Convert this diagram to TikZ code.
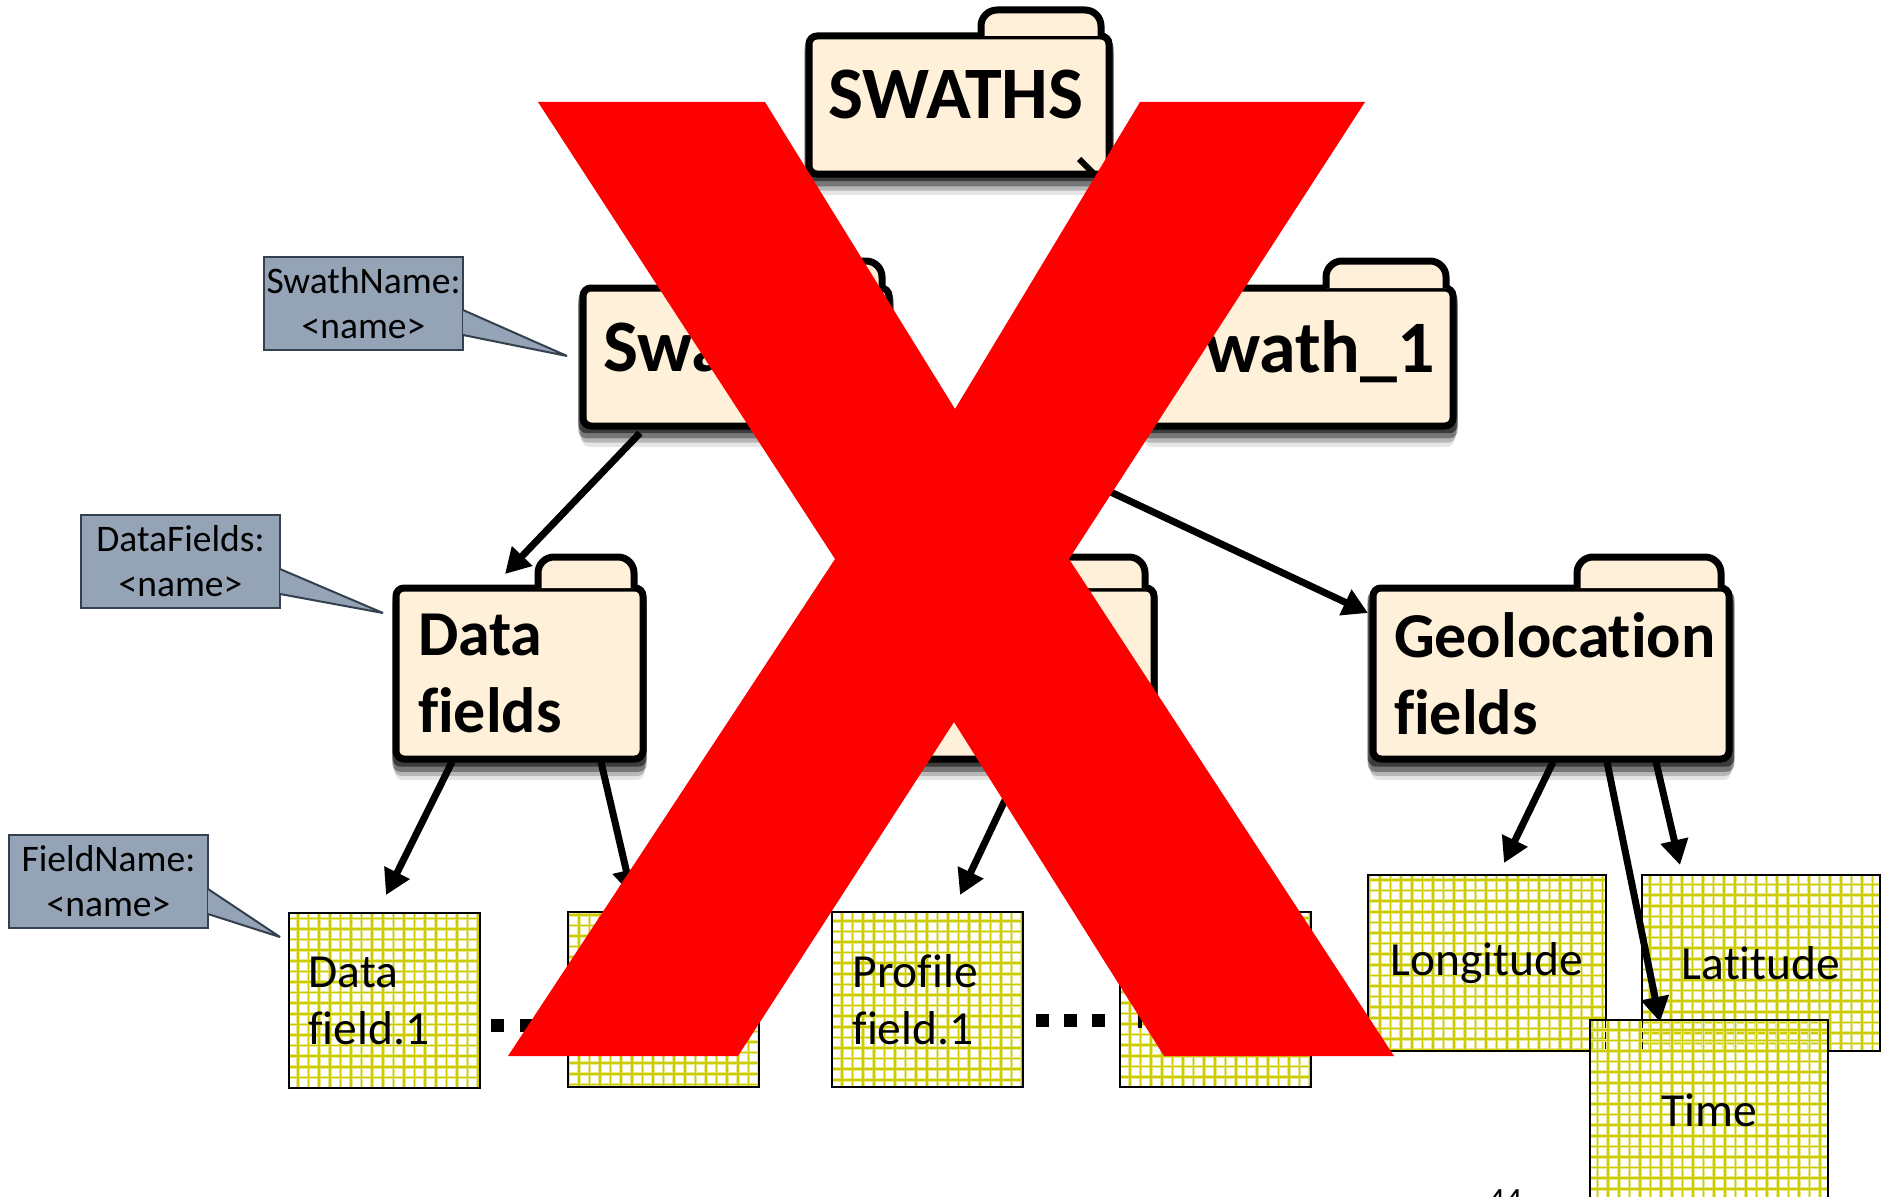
\documentclass[tikz,border=0pt]{standalone}
\usepackage{fontspec}
\setmainfont{Carlito}[Ligatures=NoCommon]
\usepackage{xcolor}
\usepackage{tikz}
\usetikzlibrary{shadows,arrows.meta}
\definecolor{foldercream}{HTML}{FFF0D9}
\definecolor{gridyellow}{HTML}{CCCC00}
\definecolor{slatefill}{HTML}{94A3B5}
\definecolor{slateline}{HTML}{34404E}
\tikzset{
  folderbody/.style={draw=black,line width=7pt,fill=foldercream,rounded corners=8pt,anchor=north west,align=left,
    inner sep=0pt,outer sep=0pt,font=\bfseries\fontsize{74}{77}\selectfont,
    general shadow={shadow yshift=-20pt,shadow scale=1.01,fill=black,opacity=.10},
    general shadow={shadow yshift=-15pt,shadow scale=1.02,fill=black,opacity=.20},
    general shadow={shadow yshift=-10pt,shadow scale=1.03,fill=black,opacity=.35},
    general shadow={shadow yshift=-5pt,shadow scale=1.03,fill=black,opacity=.5}},
  lowfolder/.style={folderbody,font=\bfseries\fontsize{64}{77}\selectfont},
  foldertab/.style={draw=black,line width=7pt,fill=foldercream,rounded corners=16pt},
  gridbox/.style={draw=black,line width=2pt,anchor=north west,align=left,inner sep=0pt,outer sep=0pt,font=\fontsize{47.5}{57}\selectfont,
    path picture={\draw[gridyellow!45,line width=3.6pt,step=10.6pt] (path picture bounding box.south west) grid (path picture bounding box.north east);
      \draw[gridyellow,line width=1.6pt,step=10.6pt] (path picture bounding box.south west) grid (path picture bounding box.north east);}},
  namebox/.style={draw=slateline,line width=2pt,fill=slatefill,anchor=north west,align=center,minimum width=199pt,minimum height=93pt,inner sep=0pt,outer sep=0pt,font=\fontsize{37.5}{45}\selectfont},
  namewedge/.style={draw=slateline,line width=2pt,fill=slatefill,line join=bevel},
  arrowline/.style={line width=7pt,-{Triangle[width=27pt,length=25pt]}}
}
\begin{document}
\begin{tikzpicture}[x=1pt,y=-1pt]
\useasboundingbox (0,0) rectangle (1886,1196);
% folders
\node[folderbody,minimum width=300pt,minimum height=138pt,text width=290pt] (swaths) at (809,36) {\raisebox{21pt}{\hspace*{14pt}SWATHS}};
\draw[foldertab] (981,36) -- (981,10) -- (1101,10) -- (1101,36);
\node[folderbody,minimum width=308pt,minimum height=138pt,text width=298pt] (swathone) at (1145,288) {\raisebox{20pt}{\hspace*{55pt}wath\_1}};
\draw[foldertab] (1326,288) -- (1326,261) -- (1446,261) -- (1446,288);
\node[folderbody,minimum width=306pt,minimum height=138pt,text width=296pt] (swathzero) at (583,288) {\raisebox{20pt}{\hspace*{15pt}Swa}};
\draw[foldertab] (762,288) -- (762,261) -- (882,261) -- (882,288);
\node[lowfolder,minimum width=247pt,minimum height=171pt,text width=237pt] (datafields) at (396,588) {\raisebox{-4pt}{\hspace*{17pt}Data}\\\raisebox{-4pt}{\hspace*{17pt}fields}};
\draw[foldertab] (538,588) -- (538,557) -- (634,557) -- (634,588);
\node[lowfolder,minimum width=247pt,minimum height=171pt] (profilefields) at (907,588) {};
\draw[foldertab] (1049,588) -- (1049,557) -- (1145,557) -- (1145,588);
\node[lowfolder,minimum width=356pt,minimum height=171pt,text width=346pt] (geofields) at (1373,588) {\raisebox{-1pt}{\hspace*{16pt}Geolocation}\\\raisebox{-1pt}{\hspace*{16pt}fields}};
\draw[foldertab] (1577,588) -- (1577,557) -- (1721,557) -- (1721,588);
% field boxes
\node[gridbox,minimum width=191pt,minimum height=175pt,text width=152pt] (dataone) at (289,913) {\raisebox{-5pt}{Data}\\\raisebox{-5pt}{field.1}};
\node[gridbox,minimum width=191pt,minimum height=175pt] (datalast) at (568,912) {};
\node[gridbox,minimum width=191pt,minimum height=175pt,text width=150pt] (profileone) at (832,912) {\raisebox{-3pt}{Profile}\\\raisebox{-3pt}{field.1}};
\node[gridbox,minimum width=191pt,minimum height=175pt,text width=150pt] (profilelast) at (1120,912) {\mbox{}\\\hspace*{-6pt}f};
\node[gridbox,minimum width=238pt,minimum height=176pt] (longitude) at (1368,875) {\raisebox{0pt}{Longitude}};
\node[gridbox,minimum width=238pt,minimum height=176pt] (latitude) at (1642,875) {\raisebox{1pt}{Latitude}};
% dots
\foreach \dotx in {491,520,549}{\fill (\dotx,1019) rectangle ++(12.5,12.5);}
\foreach \dotx in {1036,1064,1092}{\fill (\dotx,1014) rectangle ++(12.5,12.5);}
% connectors
\coordinate (swathsout) at (1079,159);
\coordinate (swathsend) at (1200,280);
\draw[line width=6pt] (swathsout) -- (swathsend);
\coordinate (zeroout) at (640,433);
\draw[arrowline] (zeroout) -- (505,574);
\draw[arrowline] (1000,440) -- ([xshift=-5pt,yshift=-25pt]geofields.north west);
\draw[arrowline] (452,762) -- (386,895);
\draw[arrowline] (601,762) -- (632,895);
\draw[arrowline] (1005,800) -- (960,895);
\draw[arrowline] (1553,762) -- (1504,863);
\draw[arrowline] (1656,762) -- (1680,865);
\draw[arrowline] (1607,762) -- (1660,1022);
\node[gridbox,minimum width=238pt,minimum height=190pt] (timebox) at (1590,1020) {\raisebox{9pt}{Time}};
% name labels
\node[namebox] (swathname) at (264,257) {SwathName:\\<name>};
\draw[namewedge] (463,310) -- (567,356) -- (463,335);
\node[namebox] (datafieldname) at (81,515) {DataFields:\\<name>};
\draw[namewedge] (280,569) -- (383,613) -- (280,594);
\node[namebox] (fieldname) at (9,835) {FieldName:\\<name>};
\draw[namewedge] (208,889) -- (280,937) -- (208,914);
% cross
\fill[red] (538,102) -- (765,102) -- (955,409) -- (1140,102) -- (1365,102) -- (1069,559) -- (1394,1056) -- (1164,1056) -- (954,722) -- (738,1056) -- (508,1056) -- (835,559) -- cycle;
\node[font=\fontsize{34}{34}\selectfont,inner sep=0pt,anchor=north] (pagenum) at (1505,1189) {44};
\end{tikzpicture}
\end{document}
